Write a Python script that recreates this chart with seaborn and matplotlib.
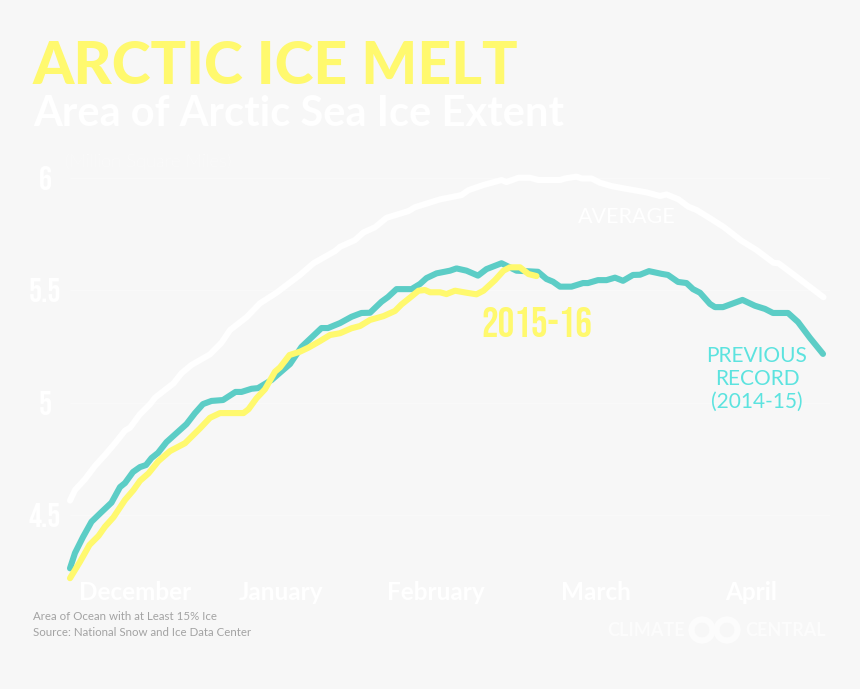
import matplotlib
matplotlib.use('Agg')
import matplotlib.pyplot as plt
import seaborn as sns
import pandas as pd
from matplotlib.patches import Circle

BG = '#f7f7f7'
YELLOW = '#fff96e'
TEAL = '#5ccdc6'
TEAL_TEXT = '#5ce3df'
TALL_FONT = ['Bebas Neue', 'Oswald', 'Liberation Sans', 'DejaVu Sans']

# days since Dec 1 and extent in million square miles
average_days = [0, 1, 3, 5, 7, 9, 11, 12, 14, 16, 17, 19, 20.7, 22.3, 24.3, 28, 30.3, 32, 35.3, 38, 41.3, 46, 48.7,
                53, 54, 57, 58.7, 61, 63.3, 67.7, 69, 74, 78.3, 79.7, 82.7, 86.3, 87.3, 89.7, 92, 93.7, 98, 99,
                101.3, 102.3, 104.3, 106, 108.3, 110.7, 115.3, 118, 119.3, 121.7, 123.7, 125.3, 128, 130.7,
                134.3, 137.3, 140.7, 141.7, 145.3, 150.7]
average_ice = [4.564, 4.611, 4.659, 4.718, 4.767, 4.819, 4.875, 4.888, 4.948, 4.992, 5.021, 5.056, 5.085, 5.13, 5.167,
               5.214, 5.266, 5.322, 5.379, 5.441, 5.488, 5.567, 5.619, 5.673, 5.692, 5.722, 5.756, 5.779, 5.821,
               5.851, 5.868, 5.903, 5.922, 5.944, 5.967, 5.989, 5.98, 5.999, 5.999, 5.989, 5.989, 5.996, 6.004,
               5.996, 5.996, 5.977, 5.962, 5.952, 5.934, 5.918, 5.925, 5.903, 5.87, 5.856, 5.819, 5.781, 5.719,
               5.678, 5.621, 5.619, 5.559, 5.468]

previous_days = [0, 1, 2.6, 4.3, 6.3, 8.3, 10, 11, 12.6, 14, 15.2, 16.3, 17.6, 19.3, 21.3, 23.3, 25, 26.6, 28.3, 30.6,
                 33.1, 34.3, 36.3, 37.6, 40.3, 44, 46.3, 50.3, 51.6, 54, 56.3, 58.3, 60, 62.3, 63.6, 65.3, 68.3, 70,
                 71.3, 73.3, 76, 77.3, 79.3, 81.6, 83.3, 86.3, 89.3, 93.6, 95.3, 96.6, 98, 100.3, 102.6, 103.6,
                 105.6, 107.3, 109, 110.6, 112.6, 114, 115.8, 118.3, 119.6, 121.6, 123.3, 124.6, 126, 128, 129,
                 130.6, 134.5, 137, 139, 140.6, 143.6, 145.6, 148, 150.6]
previous_ice = [4.263, 4.331, 4.402, 4.47, 4.513, 4.555, 4.624, 4.642, 4.691, 4.713, 4.722, 4.753, 4.776, 4.824, 4.864,
                4.904, 4.953, 4.993, 5.007, 5.011, 5.047, 5.047, 5.061, 5.064, 5.1, 5.171, 5.247, 5.331, 5.331, 5.353,
                5.381, 5.398, 5.399, 5.448, 5.469, 5.504, 5.504, 5.527, 5.553, 5.574, 5.586, 5.596, 5.586, 5.564,
                5.593, 5.619, 5.586, 5.581, 5.549, 5.537, 5.515, 5.515, 5.531, 5.531, 5.544, 5.544, 5.555, 5.541,
                5.567, 5.568, 5.584, 5.572, 5.567, 5.536, 5.531, 5.504, 5.488, 5.438, 5.424, 5.424, 5.456, 5.43,
                5.416, 5.398, 5.398, 5.358, 5.287, 5.216]

current_days = [0, 2, 3.9, 5.7, 7, 8.7, 11, 12.7, 14, 15.7, 17.7, 20, 23, 26, 28, 30, 34.7, 35.7, 37.3, 39, 41, 42,
                43.9, 46, 47.7, 50, 52, 54, 56.3, 58, 60, 62.7, 65, 66.3, 68, 69.7, 71, 72, 74, 75.3, 77, 79.3, 81.3,
                82.7, 85, 86.7, 88, 90, 91.7, 93.3]
current_ice = [4.219, 4.292, 4.367, 4.407, 4.448, 4.49, 4.567, 4.611, 4.652, 4.685, 4.74, 4.784, 4.819, 4.885, 4.932,
               4.953, 4.953, 4.97, 5.019, 5.059, 5.137, 5.156, 5.211, 5.226, 5.244, 5.273, 5.3, 5.308, 5.33, 5.34,
               5.367, 5.384, 5.407, 5.436, 5.466, 5.497, 5.5, 5.49, 5.49, 5.482, 5.497, 5.488, 5.481, 5.497, 5.544,
               5.586, 5.601, 5.601, 5.571, 5.562]

month_days = [13, 42.2, 73.2, 105.2, 136.2]
month_labels = ['December', 'January', 'February', 'March', 'April']
y_ticks = [4.5, 5, 5.5, 6]
y_labels = ['4.5', '5', '5.5', '6']

sns.set_style("whitegrid", {'axes.facecolor': 'none', 'figure.facecolor': BG, 'grid.color': '#f9f9f9'})
plt.rcParams['font.family'] = ['Lato', 'DejaVu Sans']

W, H = 860, 689
fig = plt.figure(figsize=(W / 100, H / 100), dpi=100, facecolor=BG)

ax = fig.add_axes([70 / W, (H - 580) / H, 760 / W, 420 / H])

# overlay in pixel coordinates for the title block, notes and logo
page = fig.add_axes([0, 0, 1, 1], zorder=3)
page.set_xlim(0, W)
page.set_ylim(H, 0)
page.axis('off')

series = [(average_days, average_ice, 'white'), (previous_days, previous_ice, TEAL), (current_days, current_ice, YELLOW)]
for days, ice, color in series:
    df = pd.DataFrame({'day': days, 'ice': ice})
    sns.lineplot(data=df, x='day', y='ice', ax=ax, color=color, linewidth=4.4, sort=False, estimator=None,
                 clip_on=False, solid_capstyle='round')

ax.set_xlim(0, 152)
ax.set_ylim(4.211, 6.078)
ax.set_xlabel('')
ax.set_ylabel('')
ax.xaxis.grid(False)
ax.yaxis.grid(True, linewidth=1)
sns.despine(ax=ax, left=True, bottom=True)

ax.set_xticks(month_days)
ax.set_xticklabels(month_labels, fontsize=17.5, fontweight='bold', color='white')
ax.tick_params(axis='x', length=0, pad=1)
ax.set_yticks(y_ticks)
ax.set_yticklabels(y_labels, fontsize=23.5, color='white', family=TALL_FONT, ha='center')
ax.tick_params(axis='y', length=0, pad=18)

page.text(33, 84, 'ARCTIC ICE MELT', fontsize=42.5, fontweight='black', color=YELLOW, va='baseline')
page.text(33, 126, 'Area of Arctic Sea Ice Extent', fontsize=30, fontweight='bold', color='white', va='baseline')
page.text(65, 167, '(Million Square Miles)', fontsize=13.2, fontweight='light', color='white', va='baseline')

page.text(627, 217, 'AVERAGE', fontsize=15.5, color='white', ha='center', va='center')
page.text(537, 322, '2015-16', fontsize=30, color=YELLOW, ha='center', va='center', family=TALL_FONT)
for y, line in zip([356, 379, 402], ['PREVIOUS', 'RECORD', '(2014-15)']):
    page.text(757, y, line, fontsize=15, color=TEAL_TEXT, ha='center', va='center')

page.text(33, 617, 'Area of Ocean with at Least 15% Ice', fontsize=8.3, color='#a3a3a3', va='center')
page.text(33, 632, 'Source: National Snow and Ice Data Center', fontsize=8.3, color='#a3a3a3', va='center')

# logo
page.text(646, 630, 'CLIMATE', fontsize=13, fontweight='bold', color='#fcfcfc', ha='center', va='center')
page.text(786, 630, 'CENTRAL', fontsize=13, fontweight='bold', color='#fcfcfc', ha='center', va='center')
for cx in [702, 727]:
    page.add_patch(Circle((cx, 630), 10.5, fill=False, edgecolor='#fcfcfc', linewidth=4.5))

fig.savefig('out.png', dpi=100, facecolor=BG)
